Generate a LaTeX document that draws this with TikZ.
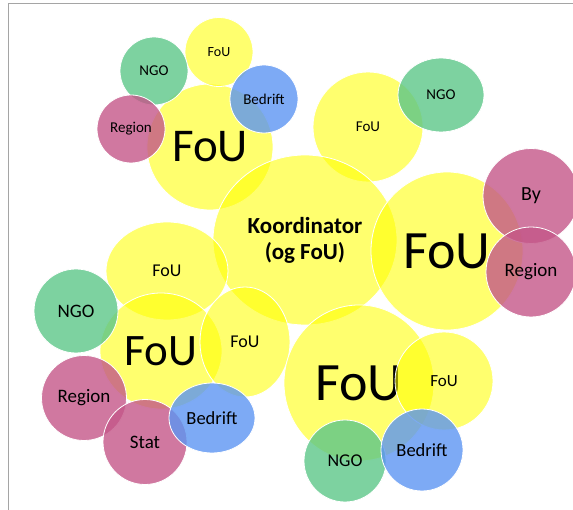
\documentclass[tikz,border=0pt]{standalone}
\usepackage{fontspec}
\setmainfont{Carlito}
\usetikzlibrary{shapes.geometric}
\definecolor{fouyel}{RGB}{255,255,0}
\definecolor{ngogreen}{RGB}{92,199,136}
\definecolor{regpink}{RGB}{196,86,136}
\definecolor{bedblue}{RGB}{92,149,242}
\definecolor{framegray}{RGB}{165,165,165}
\tikzset{
  blob/.style={ellipse, inner sep=0pt, draw=white, line width=0.8pt, text opacity=1, text=black},
  fou/.style={blob, fill=fouyel, fill opacity=0.57},
  ngo/.style={blob, fill=ngogreen, fill opacity=0.8},
  reg/.style={blob, fill=regpink, fill opacity=0.8},
  bed/.style={blob, fill=bedblue, fill opacity=0.8},
  wh/.style 2 args={minimum width=#1pt, minimum height=#2pt},
  fs/.style={font=\fontsize{#1}{#1}\selectfont}
}

\begin{document}
\begin{tikzpicture}[x=1pt,y=-1pt]
  \useasboundingbox (0,0) rectangle (573,510);
  \draw[framegray] (8,510) -- (8,3) -- (573,3);
  % yellow ones
  \node[fou,wh={126}{126},fs=47] (fouA) at (210,147) {FoU};
  \node[fou,wh={68}{69},fs=14] (fouB) at (219,52) {FoU};
  \node[fou,wh={110}{110},fs=15] (fouC) at (368,127) {FoU};
  \node[fou,wh={184}{170},fs=23,align=center,font=\bfseries\fontsize{23}{26}\selectfont] (koord) at (305,240) {Koordinator\\(og FoU)};
  \node[fou,wh={152}{158},fs=54] (fouD) at (447,251) {FoU};
  \node[fou,wh={122}{98},fs=18] (fouE) at (167,271) {FoU};
  \node[fou,wh={122}{116},fs=45] (fouF) at (161,351) {FoU};
  \node[fou,wh={90}{110},fs=18] (fouG) at (245,342) {FoU};
  \node[fou,wh={150}{156},fs=54] (fouH) at (359,383) {FoU};
  \node[fou,wh={98}{98},fs=17] (fouI) at (444,381) {FoU};
  % the others
  \node[ngo,wh={68}{68},fs=15] (ngoA) at (154,71) {NGO};
  \node[reg,wh={68}{68},fs=15] (regA) at (131,129) {Region};
  \node[bed,wh={68}{68},fs=15] (bedA) at (264,99) {Bedrift};
  \node[ngo,wh={86}{74},fs=15] (ngoB) at (441,95) {NGO};
  \node[reg,wh={96}{95},fs=20] (by) at (531,196) {By};
  \node[reg,wh={90}{90},fs=19] (regB) at (531,272) {Region};
  \node[ngo,wh={84}{84},fs=19] (ngoC) at (76,311) {NGO};
  \node[reg,wh={85}{85},fs=19] (regC) at (84,398) {Region};
  \node[reg,wh={84}{85},fs=19] (stat) at (145,442) {Stat};
  \node[bed,wh={86}{70},fs=18.5] (bedB) at (212,418) {Bedrift};
  \node[ngo,wh={82}{82},fs=18] (ngoD) at (345,461) {NGO};
  \node[bed,wh={82}{82},fs=18.5] (bedC) at (422,450) {Bedrift};
\end{tikzpicture}
\end{document}
